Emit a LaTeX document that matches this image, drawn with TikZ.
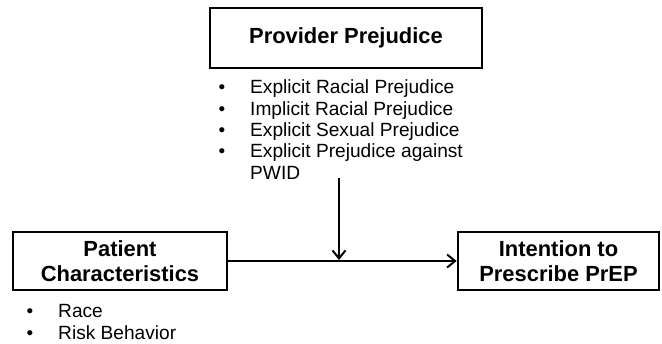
\documentclass[tikz,border=0pt]{standalone}
\usepackage{fontspec}
\setmainfont{Liberation Sans}
\usetikzlibrary{arrows.meta}
\begin{document}
\begin{tikzpicture}[x=1bp,y=-1bp,
  box/.style={draw=black,line width=2.6bp,fill=white,align=center,inner sep=0pt,
    font=\fontsize{22}{24.5}\selectfont\bfseries},
  arr/.style={draw=black,line width=2bp,-{Straight Barb[length=8bp,width=13bp,line width=2bp]}},
  bul/.style={anchor=base,inner sep=0pt,font=\fontsize{19}{21}\selectfont},
  itm/.style={anchor=base west,inner sep=0pt,font=\fontsize{19.2}{21}\selectfont}]
\useasboundingbox (0,0) rectangle (662,343);
\node[box,minimum width=272bp,minimum height=60bp] (pp) at (346,38) {Provider Prejudice};
\node[box,minimum width=214bp,minimum height=58bp] (pc) at (120,261) {Patient\\Characteristics};
\node[box,minimum width=201bp,minimum height=58bp] (ip) at (558.5,261) {Intention to\\Prescribe PrEP};
% provider list
\foreach \yy/\tt [count=\i] in {93.5/Explicit Racial Prejudice,115/Implicit Racial Prejudice,136.3/Explicit Sexual Prejudice,157.6/Explicit Prejudice against}{
  \node[bul] (pb\i) at (222,\yy) {•};
  \node[itm] (pt\i) at (250,\yy) {\tt};
}
\node[itm] (pt5) at (250,179) {PWID};
% patient list
\node[bul] (cb1) at (30,317) {•};
\node[itm] (ct1) at (58,317) {Race};
\node[bul] (cb2) at (30,339) {•};
\node[itm] (ct2) at (58,339) {Risk Behavior};
% connectors
\draw[arr] (pc.east) -- (ip.west);
\coordinate (vtop) at (339,178);
\coordinate (vmid) at (339,260);
\draw[arr] (vtop) -- (vmid);
\end{tikzpicture}
\end{document}
